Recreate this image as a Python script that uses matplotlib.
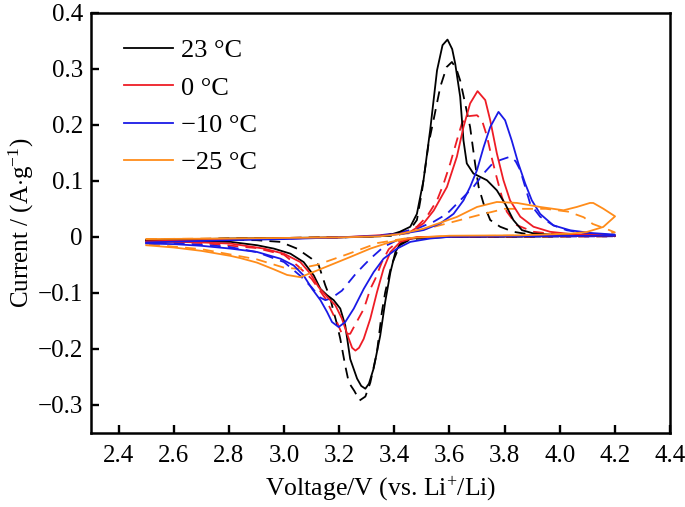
import matplotlib
matplotlib.use('Agg')
import matplotlib.pyplot as plt

plt.rcParams['font.family'] = ['Liberation Serif', 'DejaVu Serif']
plt.rcParams['mathtext.fontset'] = 'custom'
plt.rcParams['mathtext.rm'] = 'Liberation Serif'
plt.rcParams['mathtext.it'] = 'Liberation Serif:italic'

# ---- data (voltage in V, current in A/g) ----
# each curve is one closed CV loop: anodic sweep 2.5 -> 4.2 V, then back to 2.5 V

# 23 °C
v_23 = [2.50, 2.60, 2.80, 3.00, 3.20, 3.35, 3.39, 3.42, 3.458, 3.482, 3.506, 3.530, 3.555, 3.575,
        3.593, 3.61, 3.621, 3.639, 3.651, 3.663, 3.687, 3.736, 3.772, 3.802, 3.832, 3.863, 3.905,
        4.00, 4.20,
        4.20, 4.00, 3.80, 3.60, 3.53, 3.458, 3.422, 3.404, 3.386, 3.367, 3.349, 3.325, 3.308,
        3.295, 3.280, 3.265, 3.24, 3.222, 3.204, 3.18, 3.156, 3.132, 3.108, 3.071, 3.023, 2.963,
        2.902, 2.806, 2.70, 2.60, 2.50]
i_23 = [-0.006, -0.005, -0.003, -0.002, -0.001, 0.001, 0.0045, 0.009, 0.018, 0.041, 0.101, 0.190,
        0.297, 0.342, 0.352, 0.335, 0.309, 0.250, 0.172, 0.131, 0.113, 0.101, 0.083, 0.059, 0.030,
        0.012, 0.006, 0.003, 0.002,
        0.002, 0.001, 0.0005, 0.0, -0.0003, -0.0033, -0.012, -0.027, -0.063, -0.116, -0.176,
        -0.235, -0.262, -0.271, -0.266, -0.253, -0.218, -0.158, -0.128, -0.113, -0.104, -0.093,
        -0.069, -0.045, -0.030, -0.021, -0.015, -0.009, -0.008, -0.007, -0.006]
v_23_d = [2.50, 2.80, 3.20, 3.40, 3.45, 3.482, 3.50, 3.524, 3.543, 3.567, 3.59, 3.609, 3.625, 3.639,
          3.657, 3.675, 3.693, 3.706, 3.724, 3.748, 3.784, 3.832, 3.869, 4.00, 4.20,
          4.20, 3.80, 3.60, 3.46, 3.42, 3.39, 3.367, 3.355, 3.337, 3.313, 3.295, 3.274, 3.255,
          3.235, 3.222, 3.204, 3.19, 3.18, 3.168, 3.15, 3.126, 3.10, 3.047, 2.987, 2.90, 2.70, 2.50]
i_23_d = [-0.005, -0.003, -0.001, 0.002, 0.008, 0.030, 0.080, 0.165, 0.210, 0.268, 0.303, 0.312,
          0.300, 0.279, 0.238, 0.196, 0.131, 0.089, 0.059, 0.030, 0.018, 0.009, 0.006, 0.003, 0.002,
          0.001, 0.0005, 0.0, -0.004, -0.015, -0.050, -0.099, -0.134, -0.206, -0.260, -0.285,
          -0.292, -0.275, -0.260, -0.230, -0.182, -0.152, -0.134, -0.110, -0.087, -0.051, -0.039,
          -0.021, -0.009, -0.006, -0.005, -0.005]

# 0 °C
v_0 = [2.50, 2.80, 3.00, 3.20, 3.41, 3.458, 3.506, 3.543, 3.591, 3.627, 3.651, 3.675, 3.702, 3.730,
       3.748, 3.772, 3.796, 3.820, 3.857, 3.905, 3.965, 4.05, 4.20,
       4.20, 3.80, 3.60, 3.482, 3.422, 3.386, 3.361, 3.337, 3.313, 3.289, 3.272, 3.259, 3.247,
       3.235, 3.210, 3.186, 3.156, 3.126, 3.096, 3.059, 2.999, 2.927, 2.806, 2.70, 2.60, 2.50]
i_0 = [-0.008, -0.005, -0.003, -0.001, 0.0045, 0.009, 0.024, 0.047, 0.089, 0.143, 0.196, 0.238,
       0.260, 0.244, 0.208, 0.149, 0.101, 0.065, 0.036, 0.018, 0.009, 0.0045, 0.003,
       0.002, 0.001, 0.0005, -0.0003, -0.009, -0.027, -0.057, -0.099, -0.146, -0.182, -0.198,
       -0.203, -0.198, -0.182, -0.146, -0.122, -0.107, -0.090, -0.066, -0.045, -0.030, -0.021,
       -0.012, -0.010, -0.009, -0.009]
v_0_d = [2.50, 3.00, 3.30, 3.43, 3.482, 3.518, 3.555, 3.579, 3.603, 3.627, 3.645, 3.663, 3.70, 3.718,
         3.736, 3.754, 3.772, 3.79, 3.808, 3.844, 3.905, 4.00, 4.20,
         4.20, 3.60, 3.46, 3.42, 3.38, 3.355, 3.331, 3.313, 3.29, 3.27, 3.24, 3.21, 3.19, 3.15,
         3.10, 3.05, 3.00, 2.90, 2.70, 2.50]
i_0_d = [-0.006, -0.002, 0.0, 0.006, 0.018, 0.036, 0.065, 0.095, 0.131, 0.172, 0.202, 0.215, 0.217,
         0.208, 0.180, 0.140, 0.105, 0.072, 0.045, 0.021, 0.009, 0.004, 0.002,
         0.001, 0.0, -0.002, -0.006, -0.022, -0.045, -0.075, -0.093, -0.128, -0.146, -0.173,
         -0.173, -0.150, -0.110, -0.075, -0.052, -0.032, -0.020, -0.011, -0.008]

# -10 °C
v_m10 = [2.50, 2.80, 3.00, 3.20, 3.35, 3.434, 3.506, 3.567, 3.615, 3.651, 3.675, 3.70, 3.724, 3.748,
         3.778, 3.802, 3.826, 3.85, 3.875, 3.899, 3.929, 3.977, 4.038, 4.11, 4.20,
         4.20, 3.80, 3.60, 3.53, 3.458, 3.41, 3.361, 3.325, 3.289, 3.253, 3.222, 3.198, 3.174,
         3.156, 3.132, 3.102, 3.071, 3.035, 2.987, 2.902, 2.806, 2.70, 2.60, 2.50]
i_m10 = [-0.010, -0.006, -0.004, -0.001, 0.002, 0.006, 0.012, 0.024, 0.041, 0.065, 0.089, 0.119,
         0.160, 0.196, 0.223, 0.208, 0.172, 0.131, 0.095, 0.065, 0.041, 0.0205, 0.0117, 0.007, 0.004,
         0.002, 0.001, 0.0, -0.003, -0.009, -0.021, -0.039, -0.063, -0.093, -0.128, -0.152,
         -0.161, -0.152, -0.134, -0.113, -0.093, -0.069, -0.051, -0.039, -0.027, -0.021, -0.016,
         -0.013, -0.012]
v_m10_d = [2.50, 3.00, 3.30, 3.40, 3.482, 3.543, 3.591, 3.639, 3.687, 3.724, 3.755, 3.784, 3.82,
           3.84, 3.857, 3.875, 3.893, 3.929, 3.977, 4.026, 4.10, 4.20,
           4.20, 3.60, 3.46, 3.41, 3.361, 3.313, 3.289, 3.26, 3.235, 3.21, 3.17, 3.15, 3.13, 3.10,
           3.06, 3.00, 2.90, 2.80, 2.70, 2.50]
i_m10_d = [-0.008, -0.003, 0.0, 0.006, 0.0146, 0.027, 0.041, 0.065, 0.089, 0.113, 0.130, 0.137,
           0.143, 0.135, 0.119, 0.089, 0.059, 0.036, 0.0205, 0.0117, 0.006, 0.003,
           0.001, 0.0, -0.002, -0.006, -0.018, -0.039, -0.051, -0.066, -0.081, -0.096, -0.110,
           -0.113, -0.108, -0.090, -0.070, -0.045, -0.027, -0.018, -0.014, -0.010]

# -25 °C
v_m25 = [2.50, 2.80, 3.00, 3.20, 3.35, 3.42, 3.506, 3.627, 3.70, 3.772, 3.845, 3.929, 4.014, 4.062,
         4.11, 4.122, 4.158, 4.201,
         4.158, 4.098, 4.038, 3.857, 3.60, 3.458, 3.386, 3.313, 3.24, 3.18, 3.12, 3.059, 3.011,
         2.963, 2.902, 2.842, 2.806, 2.70, 2.60, 2.50]
i_m25 = [-0.004, -0.003, -0.002, -0.001, 0.001, 0.005, 0.0146, 0.0355, 0.0533, 0.0622, 0.0605,
         0.0533, 0.0474, 0.0533, 0.0605, 0.0604, 0.0503, 0.0366,
         0.0176, 0.0086, 0.0057, 0.0027, 0.002, -0.002, -0.0092, -0.021, -0.036, -0.048, -0.060,
         -0.072, -0.068, -0.058, -0.046, -0.038, -0.034, -0.025, -0.019, -0.015]
v_m25_d = [2.50, 3.00, 3.30, 3.45, 3.60, 3.70, 3.80, 3.95, 4.03, 4.087, 4.12, 4.18, 4.20,
           4.15, 4.00, 3.60, 3.45, 3.34, 3.23, 3.12, 3.05, 3.00, 2.90, 2.70, 2.50]
i_m25_d = [-0.004, -0.002, 0.0, 0.006, 0.025, 0.038, 0.050, 0.050, 0.045, 0.035, 0.023, 0.012, 0.008,
           0.004, 0.003, 0.001, -0.002, -0.011, -0.031, -0.050, -0.057, -0.055, -0.040, -0.022,
           -0.013]

labels = ['23 °C', '0 °C', '\u221210 °C', '\u221225 °C']
colors = ['#000000', '#ee1c25', '#1a1ae6', '#ff8c1a']
solid = [(v_23, i_23), (v_0, i_0), (v_m10, i_m10), (v_m25, i_m25)]
dashed = [(v_23_d, i_23_d), (v_0_d, i_0_d), (v_m10_d, i_m10_d), (v_m25_d, i_m25_d)]

x_ticks = [2.4, 2.6, 2.8, 3.0, 3.2, 3.4, 3.6, 3.8, 4.0, 4.2, 4.4]
y_ticks = [-0.3, -0.2, -0.1, 0.0, 0.1, 0.2, 0.3, 0.4]
y_tick_labels = ['\u22120.3', '\u22120.2', '\u22120.1', '0', '0.1', '0.2', '0.3', '0.4']

fig = plt.figure(figsize=(6.85, 5.07), dpi=100)
ax = fig.add_axes([0.133, 0.146, 0.845, 0.829])

# dashed first so the solid lines sit on top
for (v, i), c in zip(dashed, colors):
    ax.plot(v, i, color=c, lw=1.3, dashes=(6, 4))
for (v, i), c, lab in zip(solid, colors, labels):
    ax.plot(v, i, color=c, lw=1.3, label=lab)

ax.set_xlim(2.3, 4.4)
ax.set_ylim(-0.35, 0.4)
ax.set_xticks(x_ticks)
ax.set_xticklabels([f'{t:.1f}' for t in x_ticks])
ax.set_yticks(y_ticks)
ax.set_yticklabels(y_tick_labels)

for s in ax.spines.values():
    s.set_linewidth(1.8)
ax.tick_params(direction='in', length=5.5, width=1.7, labelsize=18,
               top=False, right=False)
ax.tick_params(axis='x', pad=9)
ax.tick_params(axis='y', pad=6)

ax.set_xlabel('Voltage/V (vs. Li$^{+}$/Li)', fontsize=18.5, labelpad=5)
ax.set_ylabel('Current / (A$\\cdot$g$^{\u22121}$)', fontsize=18, labelpad=1)

ax.legend(loc='upper left', bbox_to_anchor=(0.03, 0.975), frameon=False, fontsize=19,
          handlelength=1.85, handletextpad=0.3, labelspacing=0.52, borderaxespad=0.2)

fig.savefig('out.png', dpi=100)
